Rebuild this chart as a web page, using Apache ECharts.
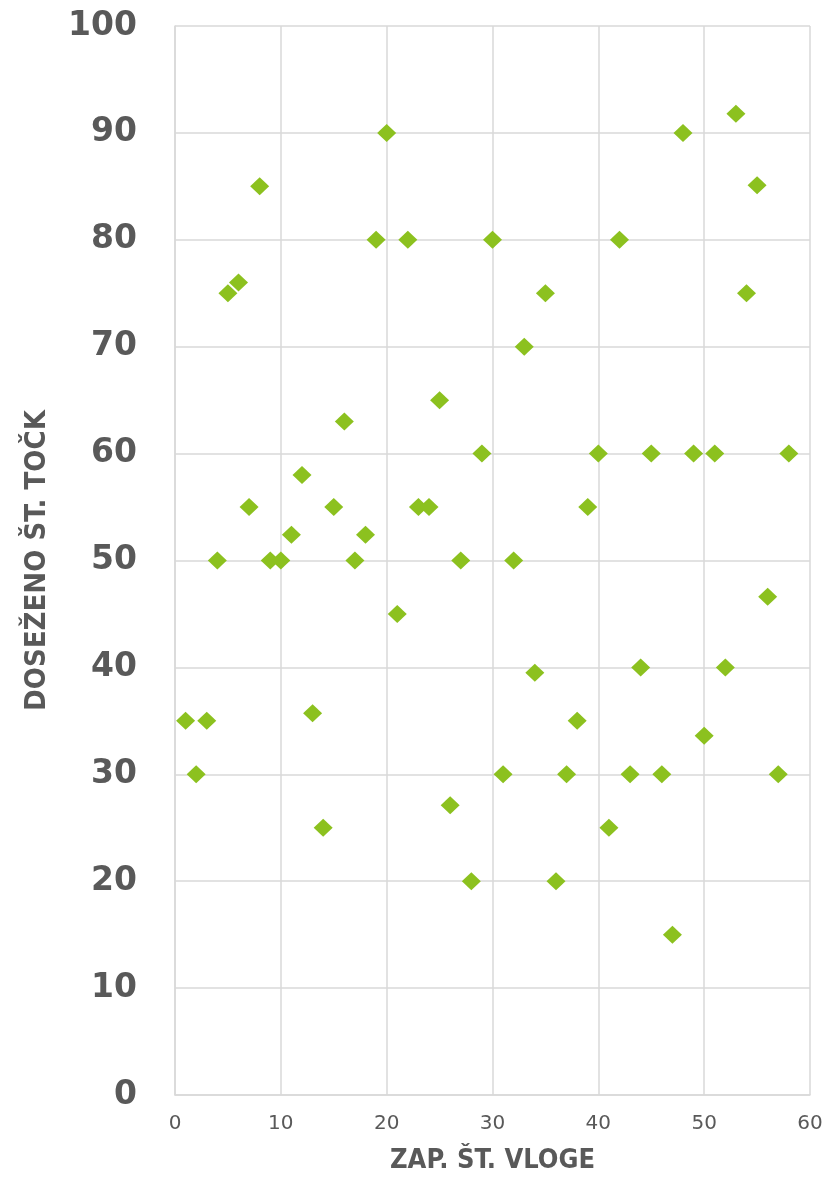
<!DOCTYPE html>
<html>
<head>
<meta charset="utf-8">
<script src="https://cdn.jsdelivr.net/npm/echarts@6/dist/echarts.min.js"></script>
<style>html,body{margin:0;padding:0;background:#fff}#c{width:828px;height:1179px}</style>
</head>
<body>
<div id="c"></div>
<script>
const xValues = [1,2,3,4,5,6,7,8,9,10,11,12,13,14,15,16,17,18,19,20,21,22,23,24,25,26,27,28,29,30,31,32,33,34,35,36,37,38,39,40,41,42,43,44,45,46,47,48,49,50,51,52,53,54,55,56,57,58];
const yValues = [35,30,35,50,75,76,55,85,50,50,52.4,58,35.7,25,55,63,50,52.4,80,90,45,80,55,55,65,27.1,50,20,60,80,30,50,70,39.5,75,20,30,35,55,60,25,80,30,40,60,30,15,90,60,33.6,60,40,91.8,75,85.1,46.6,30,60];
const xAxisTitle = 'ZAP. ŠT. VLOGE';
const yAxisTitle = 'DOSEŽENO ŠT. TOČK';

const points = xValues.map((x, i) => [x, yValues[i]]);
const chart = echarts.init(document.getElementById('c'), null, {renderer: 'canvas'});
chart.setOption({
  animation: false,
  backgroundColor: '#ffffff',
  grid: {left: 175, right: 18, top: 26, bottom: 81, containLabel: false},
  xAxis: {
    type: 'value', min: 0, max: 60, interval: 10,
    name: xAxisTitle, nameLocation: 'middle', nameGap: 52,
    nameTextStyle: {fontFamily: 'DejaVu Sans Condensed', fontWeight: 'bold', fontSize: 27, color: '#595959'},
    axisLine: {show: true, lineStyle: {color: '#d9d9d9', width: 1.5}},
    axisTick: {show: false},
    axisLabel: {margin: 19, fontFamily: 'DejaVu Sans', fontSize: 20, color: '#595959'},
    splitLine: {show: true, lineStyle: {color: '#d9d9d9', width: 1.5}}
  },
  yAxis: {
    type: 'value', min: 0, max: 100, interval: 10,
    name: yAxisTitle, nameLocation: 'middle', nameGap: 123, nameRotate: 90,
    nameTextStyle: {fontFamily: 'DejaVu Sans Condensed', fontWeight: 'bold', fontSize: 29, color: '#595959'},
    axisLine: {show: true, lineStyle: {color: '#d9d9d9', width: 1.5}},
    axisTick: {show: false},
    axisLabel: {margin: 38, fontFamily: 'DejaVu Sans', fontWeight: 'bold', fontSize: 33, color: '#595959'},
    splitLine: {show: true, lineStyle: {color: '#d9d9d9', width: 1.5}}
  },
  series: [{
    type: 'scatter',
    data: points,
    symbol: 'diamond',
    symbolSize: [19, 18],
    itemStyle: {color: '#8cc11f', opacity: 1}
  }]
});
</script>
</body>
</html>
